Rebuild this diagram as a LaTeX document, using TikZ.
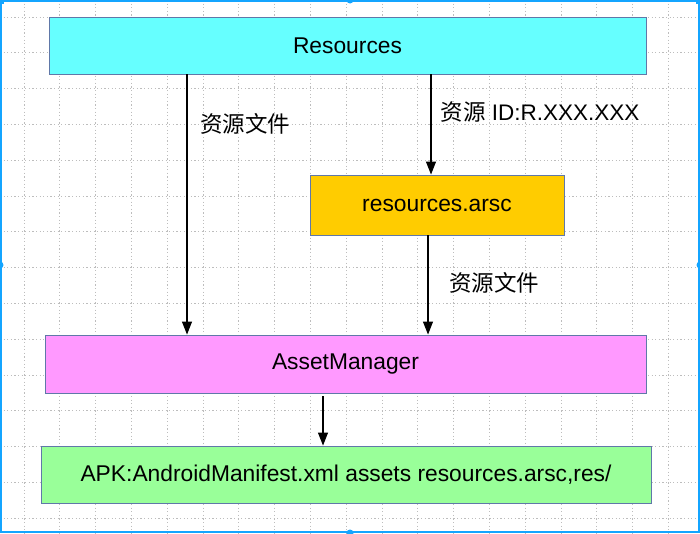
\documentclass[tikz,border=0pt]{standalone}
\usepackage{fontspec}
\setmainfont{Liberation Sans}
\newfontfamily\cjk{Noto Sans CJK SC}
\usetikzlibrary{arrows.meta}
\definecolor{frameblue}{HTML}{14A5FF}
\definecolor{gridgray}{HTML}{BDBDBD}
\definecolor{boxedge}{HTML}{6078A8}
\definecolor{cyanfill}{HTML}{66FFFF}
\definecolor{goldfill}{HTML}{FFCC00}
\definecolor{pinkfill}{HTML}{FF99FF}
\definecolor{greenfill}{HTML}{99FF99}
\tikzset{
  box/.style={draw=boxedge, line width=0.9pt, rectangle, inner sep=0pt,
    font=\fontsize{22.8}{27}\selectfont, text=black},
  arr/.style={draw=black, line width=1.1pt, -{Triangle[length=13pt,width=10pt]}},
  lbl/.style={font=\fontsize{22.5}{27}\selectfont, inner sep=0pt, text=black},
  handle/.style={fill=frameblue, draw=none}
}
\begin{document}
\begin{tikzpicture}[x=1pt,y=-1pt]
\useasboundingbox (0,0) rectangle (700,533);
\fill[white] (0,0) rectangle (700,533);
% grid
\foreach \k in {0,...,18} {
  \draw[gridgray, line width=0.8pt, dash pattern=on 1.2pt off 2.4pt] (24+35.8*\k,0) -- (24+35.8*\k,533);
}
\foreach \k in {0,...,14} {
  \draw[gridgray, line width=0.8pt, dash pattern=on 1.2pt off 2.4pt] (0,17+35.8*\k) -- (700,17+35.8*\k);
}
% frame
\draw[frameblue, line width=2pt] (1,1) rectangle (699,532);
\fill[handle] (0,265) circle (3.5);
\fill[handle] (700,265) circle (3.5);
\fill[handle] (350,533) circle (3.5);
\fill[handle] (350,0) circle (3.5);
\fill[handle] (0,0) rectangle (4,4);
\fill[handle] (696,0) rectangle (700,4);
% boxes
\node[box, fill=cyanfill, minimum width=597pt, minimum height=57pt] (res) at (347.5,45.5) {Resources};
\node[box, fill=goldfill, minimum width=254pt, minimum height=60pt] (arsc) at (437,205) {resources.arsc};
\node[box, fill=pinkfill, minimum width=601pt, minimum height=58pt] (am) at (345.5,364) {AssetManager};
\node[box, fill=greenfill, minimum width=610pt, minimum height=57pt] (apk) at (346,474.5) {APK:AndroidManifest.xml assets resources.arsc,res/};
% connector x positions
\coordinate (c1) at (187,0);
\coordinate (c2) at (431,0);
\coordinate (c3) at (428,0);
\coordinate (c4) at (323,0);
\draw[arr] (res.south -| c1) -- (am.north -| c1);
\draw[arr] (res.south -| c2) -- (arsc.north -| c2);
\draw[arr] (arsc.south -| c3) -- (am.north -| c3);
\draw[arr, shorten <=3pt] (am.south -| c4) -- (apk.north -| c4);
% labels
\node[lbl] (l1) at (245,124) {\cjk 资源文件};
\node[lbl] (l2) at (540,112) {{\cjk 资源} ID:R.XXX.XXX};
\node[lbl] (l3) at (494,283) {\cjk 资源文件};
\end{tikzpicture}
\end{document}
